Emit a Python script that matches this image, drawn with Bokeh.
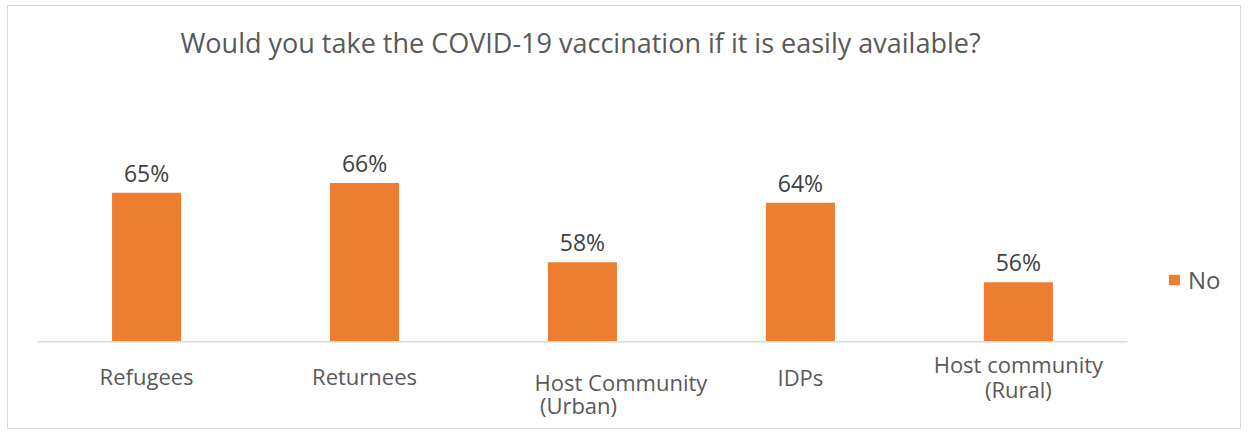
from bokeh.plotting import figure
from bokeh.models import Range1d, ColumnDataSource, Legend, LegendItem
from bokeh.core.properties import value
from bokeh.embed import file_html
from bokeh.resources import INLINE

# ---- data ----
title_text = "Would you take the COVID-19 vaccination if it is easily available?"
categories = ["Refugees", "Returnees", "Host Community\n(Urban)", "IDPs", "Host community\n(Rural)"]
no_pct = [65, 66, 58, 64, 56]
series_name = "No"
axis_min = 50

# ---- layout / style ----
W, H = 1241, 429
FONT_NAME = "Open Sans"
FONT = value(FONT_NAME)
TITLE_COLOR = "#595959"
LABEL_COLOR = "#404040"
BAR_COLOR = "#ED7D31"
LINE_COLOR = "#d9d9d9"

BORDER_L, BORDER_T = 7, 5
frame_w = W - BORDER_L
frame_h = H - BORDER_T

px_per_unit = 9.93
base_px = 336.3                      # baseline distance from frame top
y_end = axis_min + base_px / px_per_unit
y_start = axis_min - (frame_h - base_px) / px_per_unit
step_px = 217.94
first_center_px = 139.1
x_start = -first_center_px / step_px
x_end = (frame_w - first_center_px) / step_px

n = len(categories)
idx = list(range(n))

p = figure(width=W, height=H, x_range=Range1d(x_start, x_end), y_range=Range1d(y_start, y_end),
           output_backend="svg", toolbar_location=None,
           min_border_left=BORDER_L, min_border_top=BORDER_T, min_border_right=0, min_border_bottom=0,
           x_axis_type=None, y_axis_type=None)
p.grid.visible = False
p.outline_line_color = LINE_COLOR
p.outline_line_width = 1
p.background_fill_color = "white"
p.border_fill_color = "white"

src = ColumnDataSource(dict(x=idx, top=no_pct, lab=[f"{v}%" for v in no_pct]))

bars = p.vbar(x="x", top="top", bottom=axis_min, width=0.317, source=src,
              fill_color=BAR_COLOR, line_color=None)

# category axis line
p.segment(x0=[-0.5], y0=[axis_min], x1=[n - 0.5], y1=[axis_min], line_color=LINE_COLOR, line_width=1.5)

# data labels
p.text(x="x", y="top", text="lab", source=src, text_align="center", text_baseline="middle",
       y_offset=-20, text_font=FONT, text_font_size="23px", text_color=LABEL_COLOR)

# category labels (Excel-like staggered placement, per line: (dx, dy) in px)
line_pos = [
    [(0, 34.5)],
    [(0, 34.5)],
    [(38.5, 40.3), (-4, 63.4)],
    [(0, 35.2)],
    [(0, 21.7), (0, 46.8)],
]
lx, ly, lt, ldx, ldy = [], [], [], [], []
for i, cat in enumerate(categories):
    for j, line in enumerate(cat.split("\n")):
        lx.append(i)
        ly.append(axis_min)
        lt.append(line)
        ldx.append(line_pos[i][j][0])
        ldy.append(line_pos[i][j][1])
p.text(x=lx, y=ly, text=lt, x_offset=ldx, y_offset=ldy, text_align="center", text_baseline="middle",
       text_font=FONT, text_font_size="22px", text_color=TITLE_COLOR)

# title
p.text(x=[(n - 1) / 2], y=[y_end], text=[title_text], y_offset=37, x_offset=-2,
       text_align="center", text_baseline="middle", text_font=FONT, text_font_size="27px",
       text_color=TITLE_COLOR)

legend = Legend(items=[LegendItem(label=series_name, renderers=[bars])],
                location=(1160, 133), padding=0, margin=0, glyph_width=14, glyph_height=13,
                label_standoff=7, label_text_font=FONT_NAME, label_text_font_size="24px",
                label_text_color=TITLE_COLOR, border_line_color=None, background_fill_alpha=0)
p.add_layout(legend)

open("out.html", "w").write(file_html(p, INLINE))
